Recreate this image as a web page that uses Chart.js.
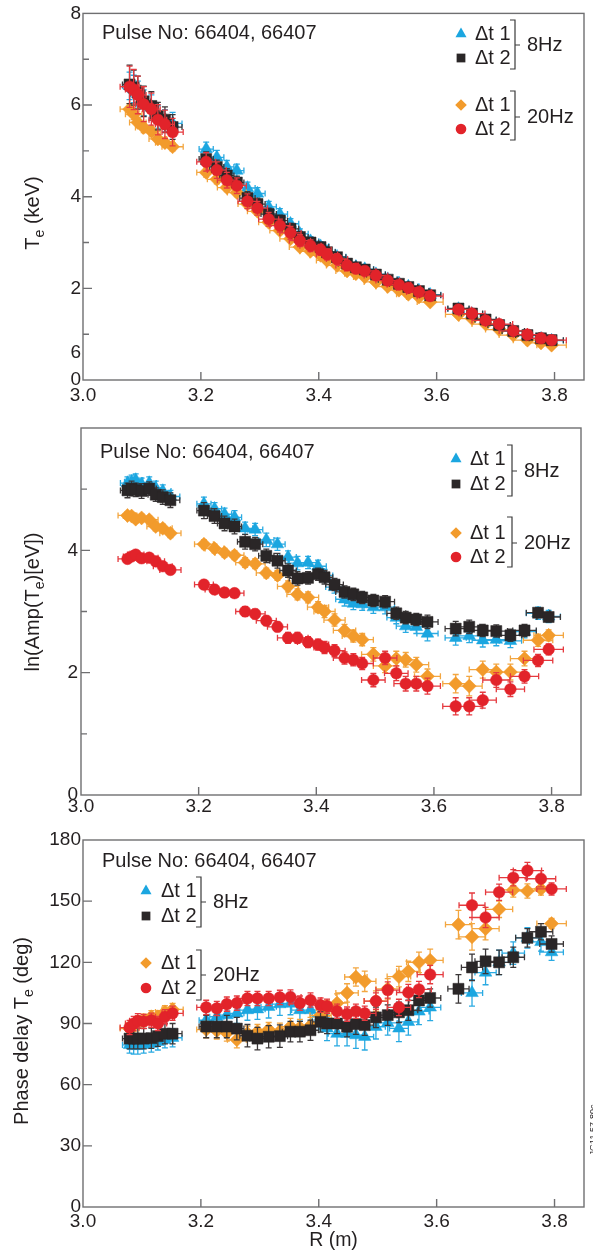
<!DOCTYPE html>
<html>
<head>
<meta charset="utf-8">
<script src="https://cdn.jsdelivr.net/npm/chart.js@4.4.1/dist/chart.umd.min.js"></script>
<style>
  body { margin: 0; background: #fff; }
  #wrap { position: relative; width: 593px; height: 1252px; }
  canvas { position: absolute; left: 0; }
</style>
</head>
<body>
<div id="wrap">
  <canvas id="c1" width="593" height="410" style="top:0px"></canvas>
  <canvas id="c2" width="593" height="410" style="top:410px"></canvas>
  <canvas id="c3" width="593" height="432" style="top:820px"></canvas>
</div>
<script>
// major radius of each ECE channel (m)
const R = [3.079, 3.086, 3.093, 3.103, 3.116, 3.127, 3.139, 3.152,
  3.209, 3.227, 3.244, 3.261, 3.279, 3.296, 3.315, 3.334, 3.352, 3.368, 3.386, 3.403, 3.414, 3.431,
  3.448, 3.463, 3.478, 3.497, 3.517, 3.536, 3.552, 3.570, 3.589,
  3.637, 3.660, 3.683, 3.706, 3.730, 3.754, 3.777, 3.795];

const xErr8  = [0.012, 0.012, 0.012, 0.012, 0.012, 0.013, 0.014, 0.016,
  0.012, 0.012, 0.012, 0.012, 0.013, 0.013, 0.013, 0.013, 0.014, 0.014, 0.014, 0.014, 0.014, 0.015,
  0.015, 0.015, 0.015, 0.016, 0.016, 0.016, 0.016, 0.017, 0.018,
  0.018, 0.018, 0.018, 0.019, 0.019, 0.020, 0.020, 0.020];
const xErr20 = [0.016, 0.014, 0.014, 0.014, 0.015, 0.015, 0.016, 0.018,
  0.016, 0.016, 0.016, 0.016, 0.016, 0.017, 0.017, 0.017, 0.018, 0.018, 0.018, 0.018, 0.018, 0.018,
  0.019, 0.019, 0.019, 0.020, 0.020, 0.020, 0.020, 0.021, 0.022,
  0.022, 0.022, 0.023, 0.023, 0.024, 0.024, 0.025, 0.025];

// panel 1: Te (keV)
const teCyan   = [6.42, 6.35, 6.24, 6.05, 5.96, 5.74, 5.66, 5.60,
  5.04, 4.86, 4.65, 4.57, 4.19, 4.07, 3.78, 3.62, 3.41, 3.19, 3.03, 2.92, 2.80, 2.69,
  2.55, 2.47, 2.42, 2.31, 2.20, 2.11, 2.04, 1.95, 1.86,
  1.55, 1.44, 1.31, 1.19, 1.06, 0.97, 0.90, 0.86];
const teBlack  = [6.45, 6.38, 6.27, 6.08, 5.98, 5.76, 5.68, 5.52,
  4.82, 4.65, 4.46, 4.31, 3.97, 3.84, 3.62, 3.48, 3.30, 3.12, 3.00, 2.90, 2.79, 2.68,
  2.54, 2.46, 2.41, 2.30, 2.19, 2.10, 2.03, 1.94, 1.85,
  1.56, 1.45, 1.32, 1.20, 1.07, 0.98, 0.91, 0.87];
const teOrange = [5.91, 5.80, 5.62, 5.51, 5.43, 5.26, 5.18, 5.09,
  4.53, 4.38, 4.20, 4.09, 3.84, 3.68, 3.44, 3.26, 3.08, 2.90, 2.81, 2.72, 2.61, 2.50,
  2.38, 2.32, 2.25, 2.14, 2.04, 1.96, 1.87, 1.81, 1.70,
  1.43, 1.34, 1.22, 1.10, 0.98, 0.87, 0.81, 0.76];
const teRed    = [6.40, 6.34, 6.22, 6.02, 5.91, 5.68, 5.58, 5.41,
  4.76, 4.58, 4.36, 4.24, 3.90, 3.75, 3.51, 3.37, 3.21, 3.04, 2.93, 2.84, 2.74, 2.64,
  2.50, 2.43, 2.38, 2.28, 2.17, 2.08, 2.01, 1.92, 1.83,
  1.54, 1.45, 1.30, 1.22, 1.07, 0.99, 0.91, 0.87];
const teCyanErr   = [0.30, 0.30, 0.28, 0.28, 0.26, 0.25, 0.24, 0.24,
  0.15, 0.15, 0.14, 0.14, 0.13, 0.13, 0.12, 0.12, 0.11, 0.11, 0.10, 0.10, 0.10, 0.09,
  0.09, 0.09, 0.08, 0.08, 0.08, 0.07, 0.07, 0.07, 0.07,
  0.06, 0.05, 0.05, 0.05, 0.05, 0.04, 0.04, 0.04];
const teBlackErr  = [0.42, 0.38, 0.36, 0.33, 0.31, 0.30, 0.28, 0.27,
  0.16, 0.15, 0.15, 0.14, 0.14, 0.13, 0.13, 0.12, 0.12, 0.11, 0.11, 0.10, 0.10, 0.10,
  0.09, 0.09, 0.09, 0.08, 0.08, 0.08, 0.07, 0.07, 0.07,
  0.06, 0.06, 0.05, 0.05, 0.05, 0.05, 0.04, 0.04];
const teOrangeErr = [0.12, 0.12, 0.11, 0.11, 0.10, 0.10, 0.10, 0.09,
  0.10, 0.10, 0.09, 0.09, 0.09, 0.08, 0.08, 0.08, 0.07, 0.07, 0.07, 0.07, 0.06, 0.06,
  0.06, 0.06, 0.06, 0.05, 0.05, 0.05, 0.05, 0.05, 0.05,
  0.04, 0.04, 0.04, 0.04, 0.04, 0.04, 0.04, 0.04];
const teRedErr    = [0.45, 0.44, 0.41, 0.38, 0.35, 0.33, 0.31, 0.30,
  0.20, 0.18, 0.17, 0.17, 0.16, 0.15, 0.15, 0.14, 0.14, 0.13, 0.13, 0.12, 0.12, 0.11,
  0.11, 0.11, 0.10, 0.10, 0.10, 0.09, 0.09, 0.09, 0.08,
  0.07, 0.07, 0.06, 0.06, 0.06, 0.05, 0.05, 0.05];

// panel 2: ln(Amp(Te)[eV])
const ampCyan   = [5.10, 5.12, 5.15, 5.08, 5.10, 5.02, 4.97, 4.88,
  4.76, 4.68, 4.59, 4.54, 4.36, 4.34, 4.17, 4.10, 3.89, 3.79, 3.80, 3.74, 3.59, 3.40,
  3.20, 3.13, 3.12, 3.07, 3.07, 2.90, 2.76, 2.75, 2.64,
  2.57, 2.60, 2.53, 2.54, 2.52, 2.67, 2.97, 2.92];
const ampBlack  = [4.98, 5.01, 4.99, 4.97, 5.01, 4.91, 4.87, 4.82,
  4.65, 4.56, 4.44, 4.39, 4.14, 4.10, 3.91, 3.83, 3.67, 3.54, 3.55, 3.61, 3.56, 3.44,
  3.32, 3.28, 3.23, 3.18, 3.16, 2.97, 2.90, 2.87, 2.83,
  2.72, 2.75, 2.69, 2.68, 2.61, 2.69, 2.98, 2.91];
const ampOrange = [4.57, 4.56, 4.51, 4.53, 4.50, 4.39, 4.36, 4.28,
  4.10, 4.03, 3.96, 3.92, 3.80, 3.78, 3.63, 3.59, 3.41, 3.28, 3.23, 3.07, 3.00, 2.86,
  2.69, 2.60, 2.54, 2.30, 2.11, 2.23, 2.21, 2.13, 1.94,
  1.82, 1.78, 2.05, 2.01, 2.01, 2.23, 2.53, 2.61];
const ampRed    = [3.86, 3.90, 3.93, 3.87, 3.88, 3.82, 3.74, 3.68,
  3.44, 3.36, 3.31, 3.30, 3.00, 2.96, 2.85, 2.75, 2.57, 2.57, 2.50, 2.46, 2.41, 2.36,
  2.24, 2.21, 2.15, 1.88, 2.24, 1.99, 1.82, 1.82, 1.78,
  1.45, 1.45, 1.55, 1.88, 1.73, 1.94, 2.20, 2.38];
const ampCyanErr   = [0.10, 0.11, 0.10, 0.10, 0.10, 0.11, 0.10, 0.10,
  0.11, 0.10, 0.10, 0.11, 0.10, 0.10, 0.11, 0.10, 0.10, 0.11, 0.10, 0.10, 0.10, 0.10,
  0.11, 0.10, 0.10, 0.10, 0.11, 0.10, 0.10, 0.11, 0.12,
  0.12, 0.11, 0.11, 0.10, 0.11, 0.10, 0.10, 0.10];
const ampBlackErr  = [0.12, 0.12, 0.11, 0.12, 0.11, 0.11, 0.12, 0.12,
  0.13, 0.12, 0.12, 0.12, 0.12, 0.11, 0.11, 0.12, 0.11, 0.11, 0.10, 0.10, 0.11, 0.10,
  0.10, 0.10, 0.10, 0.10, 0.10, 0.10, 0.10, 0.10, 0.11,
  0.12, 0.11, 0.10, 0.10, 0.10, 0.10, 0.08, 0.08];
const ampOrangeErr = [0.06, 0.06, 0.06, 0.06, 0.06, 0.07, 0.07, 0.07,
  0.07, 0.07, 0.07, 0.07, 0.08, 0.08, 0.08, 0.08, 0.09, 0.09, 0.09, 0.09, 0.10, 0.10,
  0.10, 0.10, 0.10, 0.11, 0.11, 0.12, 0.12, 0.12, 0.12,
  0.15, 0.16, 0.14, 0.13, 0.13, 0.12, 0.10, 0.09];
const ampRedErr    = [0.06, 0.06, 0.06, 0.06, 0.06, 0.07, 0.07, 0.07,
  0.07, 0.07, 0.07, 0.07, 0.08, 0.08, 0.08, 0.08, 0.09, 0.09, 0.09, 0.09, 0.10, 0.10,
  0.10, 0.10, 0.10, 0.11, 0.11, 0.12, 0.12, 0.12, 0.13,
  0.14, 0.14, 0.13, 0.12, 0.12, 0.11, 0.10, 0.09];

// panel 3: phase delay (deg)
const phCyan   = [79.5, 79, 79, 79.5, 80, 81, 82, 83,
  91.6, 93.3, 94.1, 95, 96.6, 97, 98.2, 99.5, 99.8, 96.6, 96.6, 93.3, 87.6, 85,
  85, 84.3, 83.5, 88.4, 90.3, 87.6, 90.8, 95.9, 97.9,
  null, 105, 115, 120, 124.5, 132, 130, 125];
const phBlack  = [82.6, 82.6, 82.6, 82.6, 82.8, 83.8, 85, 85,
  88.5, 88.5, 88.5, 87.5, 84, 82.6, 83.5, 83.8, 86, 86, 86.7, 90.8, 90, 90,
  88.4, 89.7, 89.2, 93, 94.1, 95.5, 96.5, 101.3, 102.5,
  107, 117.5, 120.5, 120, 122.5, 132, 135, 129];
const phOrange = [87.5, 89, 90.8, 91.6, 93.3, 93.3, 95.7, 96.9,
  87, 86.4, 85.4, 82, 85.2, 86, 87, 86.2, 88.5, 88, 89, 94, 97.5, 100,
  105, 112.8, 110.7, 101, 107, 113, 115.6, 120, 121,
  138.5, 132.5, 136.5, 146, 155.5, 155, 156, 139];
const phRed    = [88, 90, 91.3, 91, 91.6, 90, 93.3, 95,
  97.9, 97.4, 99.5, 100, 102.3, 102.3, 102.3, 102.8, 103, 100, 101.5, 99, 98.5, 96,
  94.6, 96, 95, 101, 106.4, 97.9, 105.2, 106.7, 114,
  null, 148, 142, 154.4, 161.5, 165, 161, 156];
const phCyanErr   = [4, 4, 4, 4, 4, 4, 4, 4.5,
  5, 5, 5, 5, 5, 5, 5.5, 5.5, 5.5, 5.5, 5.5, 6, 6, 6,
  6, 6.5, 6.5, 6, 6, 6.5, 6.5, 6.5, 6.5,
  6, 6.5, 6, 6, 5.5, 5, 4.5, 4];
const phBlackErr  = [5, 5, 5, 5, 5, 5, 5, 5,
  5.5, 5.5, 5.5, 5.5, 5.5, 5.5, 5.5, 5.5, 5, 5, 5, 5, 5, 5,
  5, 5, 5, 5, 5, 5, 5, 5, 4.5,
  7, 6.5, 6, 6, 5, 4.5, 4, 4];
const phOrangeErr = [3, 3, 3, 3, 3, 3, 3, 3,
  4, 4, 4, 4, 3.5, 3.5, 3.5, 4, 4, 4, 4, 4, 4, 4.5,
  4.5, 4.5, 5, 5, 5, 5, 5, 5, 5.5,
  7, 6.5, 5.5, 4, 3.5, 3.5, 3, 2.5];
const phRedErr    = [3.5, 3.5, 3.5, 3.5, 3.5, 3.5, 3.5, 3.5,
  3.5, 3.5, 3.5, 3.5, 3.5, 3.5, 3.5, 3.5, 3.5, 3.5, 3.5, 3.5, 3.5, 3.5,
  3.5, 3.5, 3.5, 4, 4, 4, 4, 4, 4.5,
  7, 6, 5, 4, 4, 4, 4, 3];

// axes and text
const xTicks = [3.0, 3.2, 3.4, 3.6, 3.8];
const pulseText = 'Pulse No: 66404, 66407';
const rowLabels = ['\u0394t 1', '\u0394t 2'];
const freqLabels = ['8Hz', '20Hz'];
const title1 = [['T', 0], ['e', 1], [' (keV)', 0]];
const title2 = [['ln(Amp(T', 0], ['e', 1], [')[eV])', 0]];
const title3 = [['Phase delay T', 0], ['e', 1], [' (deg)', 0]];

const FONT = '"Liberation Sans", Arial, Helvetica, sans-serif';
const INK = '#231f20';
const COL = { cyan: '#1ba6e0', black: '#2a2627', orange: '#f29b2c', red: '#e2232a' };
const ERRCOL = { cyan: '#2aaae2', black: '#3b3738', orange: '#f3a640', red: '#e53a3f' };
const STYLE = { cyan: ['triangle', 7.3], black: ['rect', 7.8], orange: ['rectRot', 7], red: ['circle', 5.8] };
const LEGSTYLE = { cyan: ['triangle', 6.4], black: ['rect', 6.2], orange: ['rectRot', 5.8], red: ['circle', 5.3] };

Chart.defaults.font.family = FONT;
Chart.defaults.color = INK;

function series(key, vals, yerr, xerr) {
  const pts = [];
  R.forEach((x, i) => {
    if (vals[i] != null) pts.push({ x: x, y: vals[i], ye: yerr[i], xe: xerr[i] });
  });
  return {
    data: pts,
    pointStyle: STYLE[key][0],
    pointRadius: STYLE[key][1],
    pointHoverRadius: STYLE[key][1],
    pointBackgroundColor: COL[key],
    pointBorderColor: COL[key],
    pointBorderWidth: 0.5,
    showLine: false,
    errColor: ERRCOL[key]
  };
}

function mark(ctx, style, x, y, r) {
  ctx.beginPath();
  if (style === 'circle') {
    ctx.arc(x, y, r, 0, Math.PI * 2);
  } else if (style === 'rect') {
    const s = r * Math.SQRT1_2;
    ctx.rect(x - s, y - s, 2 * s, 2 * s);
  } else if (style === 'rectRot') {
    ctx.moveTo(x - r, y); ctx.lineTo(x, y - r); ctx.lineTo(x + r, y); ctx.lineTo(x, y + r);
    ctx.closePath();
  } else {
    ctx.moveTo(x, y - r);
    ctx.lineTo(x + r * 0.866, y + r * 0.5);
    ctx.lineTo(x - r * 0.866, y + r * 0.5);
    ctx.closePath();
  }
  ctx.fill();
}

// error bars go under each dataset's own markers
const errorBars = {
  id: 'errorBars',
  beforeDatasetDraw(chart, args) {
    const ds = chart.data.datasets[args.index];
    const xs = chart.scales.x, ys = chart.scales.y, ctx = chart.ctx;
    ctx.save();
    ctx.strokeStyle = ds.errColor;
    ctx.lineWidth = 1.3;
    ctx.beginPath();
    ds.data.forEach(p => {
      const px = xs.getPixelForValue(p.x), py = ys.getPixelForValue(p.y);
      const y0 = ys.getPixelForValue(p.y - p.ye), y1 = ys.getPixelForValue(p.y + p.ye);
      const x0 = xs.getPixelForValue(p.x - p.xe), x1 = xs.getPixelForValue(p.x + p.xe);
      ctx.moveTo(px, y0); ctx.lineTo(px, y1);
      ctx.moveTo(px - 3, y0); ctx.lineTo(px + 3, y0);
      ctx.moveTo(px - 3, y1); ctx.lineTo(px + 3, y1);
      ctx.moveTo(x0, py); ctx.lineTo(x1, py);
      ctx.moveTo(x0, py - 3); ctx.lineTo(x0, py + 3);
      ctx.moveTo(x1, py - 3); ctx.lineTo(x1, py + 3);
    });
    ctx.stroke();
    ctx.restore();
  }
};

function drawYTitle(ctx, parts, bx, cy) {
  const big = '20px ' + FONT, small = '14px ' + FONT;
  let total = 0;
  parts.forEach(p => { ctx.font = p[1] ? small : big; total += ctx.measureText(p[0]).width; });
  ctx.save();
  ctx.translate(bx, cy);
  ctx.rotate(-Math.PI / 2);
  ctx.textBaseline = 'alphabetic';
  ctx.textAlign = 'left';
  let x = -total / 2;
  parts.forEach(p => {
    ctx.font = p[1] ? small : big;
    ctx.fillText(p[0], x, p[1] ? 5 : 0);
    x += ctx.measureText(p[0]).width;
  });
  ctx.restore();
}

function deco(cfg) {
  return {
    id: 'deco',
    afterDraw(chart) {
      const ctx = chart.ctx, a = chart.chartArea, xs = chart.scales.x, ys = chart.scales.y;
      ctx.save();
      // frame + inward ticks
      ctx.strokeStyle = '#6f6f71';
      ctx.lineWidth = 1.4;
      ctx.strokeRect(a.left, a.top, a.right - a.left, a.bottom - a.top);
      ctx.beginPath();
      xTicks.forEach(v => {
        const px = xs.getPixelForValue(v);
        if (px > a.left + 2) { ctx.moveTo(px, a.bottom); ctx.lineTo(px, a.bottom - 8); }
      });
      cfg.yTicks.forEach(v => {
        const py = ys.getPixelForValue(v);
        if (py < a.bottom - 2 && py > a.top + 2) { ctx.moveTo(a.left, py); ctx.lineTo(a.left + 9, py); }
      });
      cfg.yMinor.forEach(v => {
        const py = ys.getPixelForValue(v);
        ctx.moveTo(a.left, py); ctx.lineTo(a.left + 6, py);
      });
      ctx.stroke();

      ctx.fillStyle = INK;
      drawYTitle(ctx, cfg.title, cfg.titlePos[0], cfg.titlePos[1]);

      ctx.font = '20px ' + FONT;
      ctx.textBaseline = 'middle';
      ctx.textAlign = 'left';
      ctx.fillText(pulseText, cfg.pulse[0], cfg.pulse[1]);

      // legend: two groups with brackets
      const L = cfg.legend;
      const keys = [['cyan', 'black'], ['orange', 'red']];
      L.groups.forEach((g, gi) => {
        g.rows.forEach((ry, ri) => {
          const k = keys[gi][ri];
          ctx.fillStyle = COL[k];
          mark(ctx, LEGSTYLE[k][0], L.mx, ry, LEGSTYLE[k][1]);
          ctx.fillStyle = INK;
          ctx.font = '20px ' + FONT;
          ctx.fillText(rowLabels[ri], L.tx, ry);
        });
        ctx.strokeStyle = '#3a3a3a';
        ctx.lineWidth = 1.2;
        ctx.beginPath();
        ctx.moveTo(L.bx - 5, g.top); ctx.lineTo(L.bx, g.top); ctx.lineTo(L.bx, g.bottom); ctx.lineTo(L.bx - 5, g.bottom);
        ctx.moveTo(L.bx, g.mid); ctx.lineTo(L.bx + 5, g.mid);
        ctx.stroke();
        ctx.fillText(freqLabels[gi], L.lx, g.mid);
      });

      if (cfg.stray) {
        ctx.font = '19px ' + FONT;
        ctx.textAlign = 'right';
        ctx.fillText(cfg.stray.text, cfg.stray.x, ys.getPixelForValue(cfg.stray.value));
      }
      if (cfg.xTitle) {
        ctx.font = '19.5px ' + FONT;
        ctx.textAlign = 'center';
        ctx.textBaseline = 'alphabetic';
        ctx.fillText(cfg.xTitle.text, (a.left + a.right) / 2, cfg.xTitle.y);
      }
      if (cfg.note) {
        ctx.save();
        ctx.translate(cfg.note.x, cfg.note.y);
        ctx.rotate(-Math.PI / 2);
        ctx.font = '9px ' + FONT;
        ctx.textAlign = 'center';
        ctx.textBaseline = 'alphabetic';
        ctx.fillText(cfg.note.text, 0, 0);
        ctx.restore();
      }
      ctx.restore();
    }
  };
}

function makeChart(id, cfg) {
  const canvas = document.getElementById(id);
  const H = canvas.height;
  return new Chart(canvas, {
    type: 'scatter',
    data: { datasets: cfg.datasets },
    options: {
      responsive: false,
      animation: false,
      events: [],
      layout: { padding: { left: 0, right: 593 - cfg.right, top: cfg.top, bottom: 0 } },
      scales: {
        x: {
          type: 'linear', min: 3.0, max: 3.85,
          grid: { display: false, drawTicks: false },
          border: { display: false },
          afterBuildTicks: s => { s.ticks = xTicks.map(v => ({ value: v })); },
          afterFit: s => { s.height = H - cfg.bottom; },
          ticks: { padding: cfg.xPad, maxRotation: 0, autoSkip: false, color: INK,
                   font: { size: 19 }, callback: v => v.toFixed(1) }
        },
        y: {
          type: 'linear', min: cfg.yMin, max: cfg.yMax,
          grid: { display: false, drawTicks: false },
          border: { display: false },
          afterBuildTicks: s => { s.ticks = cfg.yTicks.map(v => ({ value: v })); },
          afterFit: s => { s.width = cfg.left; },
          ticks: { padding: cfg.yPad, autoSkip: false, color: INK,
                   font: { size: 19 }, callback: v => String(v) }
        }
      },
      plugins: { legend: { display: false }, tooltip: { enabled: false } }
    },
    plugins: [errorBars, deco(cfg)]
  });
}

// dataset 0 is drawn on top
makeChart('c1', {
  datasets: [
    series('red', teRed, teRedErr, xErr20),
    series('black', teBlack, teBlackErr, xErr8),
    series('orange', teOrange, teOrangeErr, xErr20),
    series('cyan', teCyan, teCyanErr, xErr8)
  ],
  top: 13, bottom: 380, left: 83, right: 584, xPad: 4, yPad: 2,
  yMin: 0, yMax: 8, yTicks: [0, 2, 4, 6, 8], yMinor: [1, 3, 5, 7],
  title: title1, titlePos: [39, 213], pulse: [102, 33],
  legend: { mx: 461, tx: 475, bx: 515, lx: 527, groups: [
    { rows: [34, 58], top: 20, bottom: 69, mid: 45 },
    { rows: [105, 129], top: 91, bottom: 140, mid: 117 } ] },
  stray: { text: '6', value: 0.6, x: 81 }
});

makeChart('c2', {
  datasets: [
    series('red', ampRed, ampRedErr, xErr20),
    series('black', ampBlack, ampBlackErr, xErr8),
    series('orange', ampOrange, ampOrangeErr, xErr20),
    series('cyan', ampCyan, ampCyanErr, xErr8)
  ],
  top: 18, bottom: 385, left: 81, right: 581, xPad: 0, yPad: 3,
  yMin: 0, yMax: 6, yTicks: [0, 2, 4], yMinor: [1, 3, 5],
  title: title2, titlePos: [38.5, 192], pulse: [100, 42],
  legend: { mx: 456, tx: 470, bx: 512, lx: 524, groups: [
    { rows: [49, 74], top: 35, bottom: 86, mid: 61 },
    { rows: [123, 147], top: 107, bottom: 157, mid: 133 } ] }
});

makeChart('c3', {
  datasets: [
    series('red', phRed, phRedErr, xErr20),
    series('black', phBlack, phBlackErr, xErr8),
    series('orange', phOrange, phOrangeErr, xErr20),
    series('cyan', phCyan, phCyanErr, xErr8)
  ],
  top: 20, bottom: 387, left: 83, right: 584, xPad: 3, yPad: 2,
  yMin: 0, yMax: 180, yTicks: [0, 30, 60, 90, 120, 150, 180], yMinor: [],
  title: title3, titlePos: [27.5, 211], pulse: [102, 41],
  legend: { mx: 146, tx: 161, bx: 201, lx: 213, groups: [
    { rows: [71, 96], top: 57, bottom: 107, mid: 82 },
    { rows: [143, 168], top: 130, bottom: 180, mid: 155 } ] },
  xTitle: { text: 'R (m)', y: 426 },
  note: { text: 'JG11.57-80c', x: 596, y: 310 }
});
</script>
</body>
</html>
